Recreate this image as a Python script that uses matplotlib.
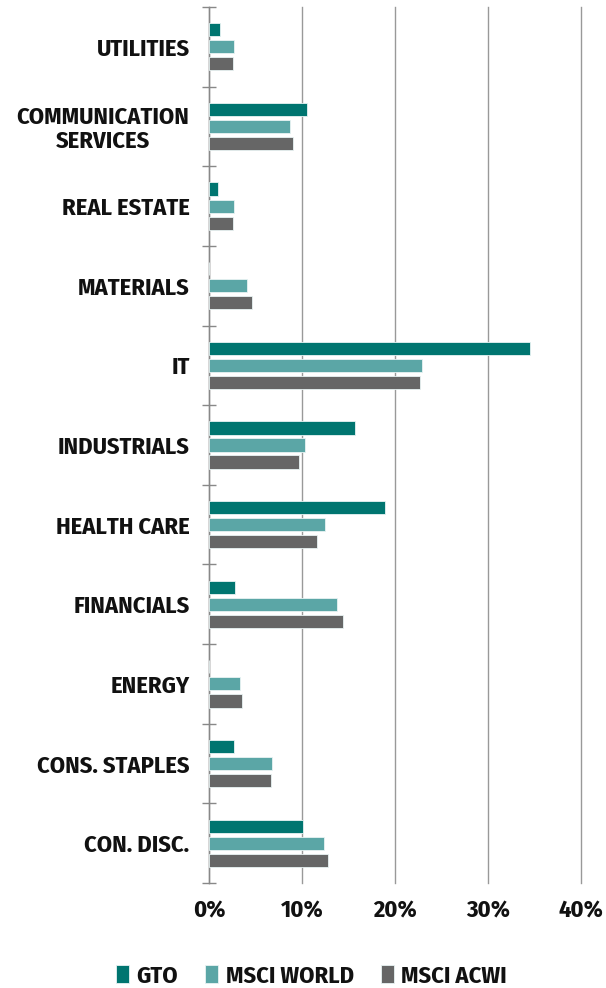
import matplotlib
matplotlib.use("Agg")
import matplotlib.pyplot as plt
import numpy as np

categories = ["CON. DISC.", "CONS. STAPLES", "ENERGY", "FINANCIALS", "HEALTH CARE",
              "INDUSTRIALS", "IT", "MATERIALS", "REAL ESTATE",
              "COMMUNICATION\nSERVICES", "UTILITIES"]
gto = [10.1, 2.7, 0.0, 2.8, 18.9, 15.7, 34.5, 0.0, 1.0, 10.5, 1.2]
msci_world = [12.4, 6.8, 3.3, 13.8, 12.5, 10.3, 22.9, 4.1, 2.7, 8.7, 2.7]
msci_acwi = [12.8, 6.7, 3.5, 14.4, 11.6, 9.7, 22.7, 4.6, 2.6, 9.0, 2.6]
series_names = ["GTO", "MSCI WORLD", "MSCI ACWI"]
xticks = [0, 10, 20, 30, 40]
xtick_labels = ["0%", "10%", "20%", "30%", "40%"]

colors = ["#007570", "#5BA6A6", "#666666"]

plt.rcParams['font.family'] = ['Fira Sans Condensed', 'DejaVu Sans']

fig = plt.figure(figsize=(6.06, 9.88), dpi=100)
ax = fig.add_axes([209/606, 1-883/988, 372/606, 876/988])

y = np.arange(len(categories))
h = 0.165
off = 0.214
for vals, o, c, n in zip([gto, msci_world, msci_acwi], [off, 0, -off], colors, series_names):
    ax.barh(y + o, vals, height=h, color=c, edgecolor="#e8f3f3", linewidth=0.6, label=n, zorder=3)

FS = 17.5
ax.set_xlim(0, 40)
ax.set_ylim(-0.5, len(categories) - 0.5)
ax.set_xticks(xticks)
ax.set_xticklabels(xtick_labels, fontsize=FS, fontweight='bold', color='#111111')
ax.tick_params(axis='x', length=0, pad=12)

ax.set_yticks(y)
ax.set_yticklabels(categories, fontsize=FS, fontweight='bold', color='#111111',
                   multialignment='center', linespacing=1.05)
ax.tick_params(axis='y', which='major', length=0, pad=14)
ax.set_yticks(np.arange(-0.5, len(categories), 1), minor=True)
ax.tick_params(axis='y', which='minor', length=10, direction='inout', color='#888888', width=1)

ax.grid(axis='x', color='#999999', linewidth=1.0, zorder=0)
for gl in ax.get_xgridlines():
    gl.set_clip_on(False)
for s in ['top', 'right', 'bottom']:
    ax.spines[s].set_visible(False)
ax.spines['left'].set_color('#888888')
ax.spines['left'].set_linewidth(1.0)

leg = fig.legend(loc='center', bbox_to_anchor=(0.514, 1-976/988), ncol=3, frameon=False,
                 prop={'size': FS, 'weight': 'bold'}, handlelength=0.55, handleheight=0.75,
                 handletextpad=0.3, columnspacing=1.1)
for t in leg.get_texts():
    t.set_color('#111111')

fig.savefig("out.png", dpi=100)
